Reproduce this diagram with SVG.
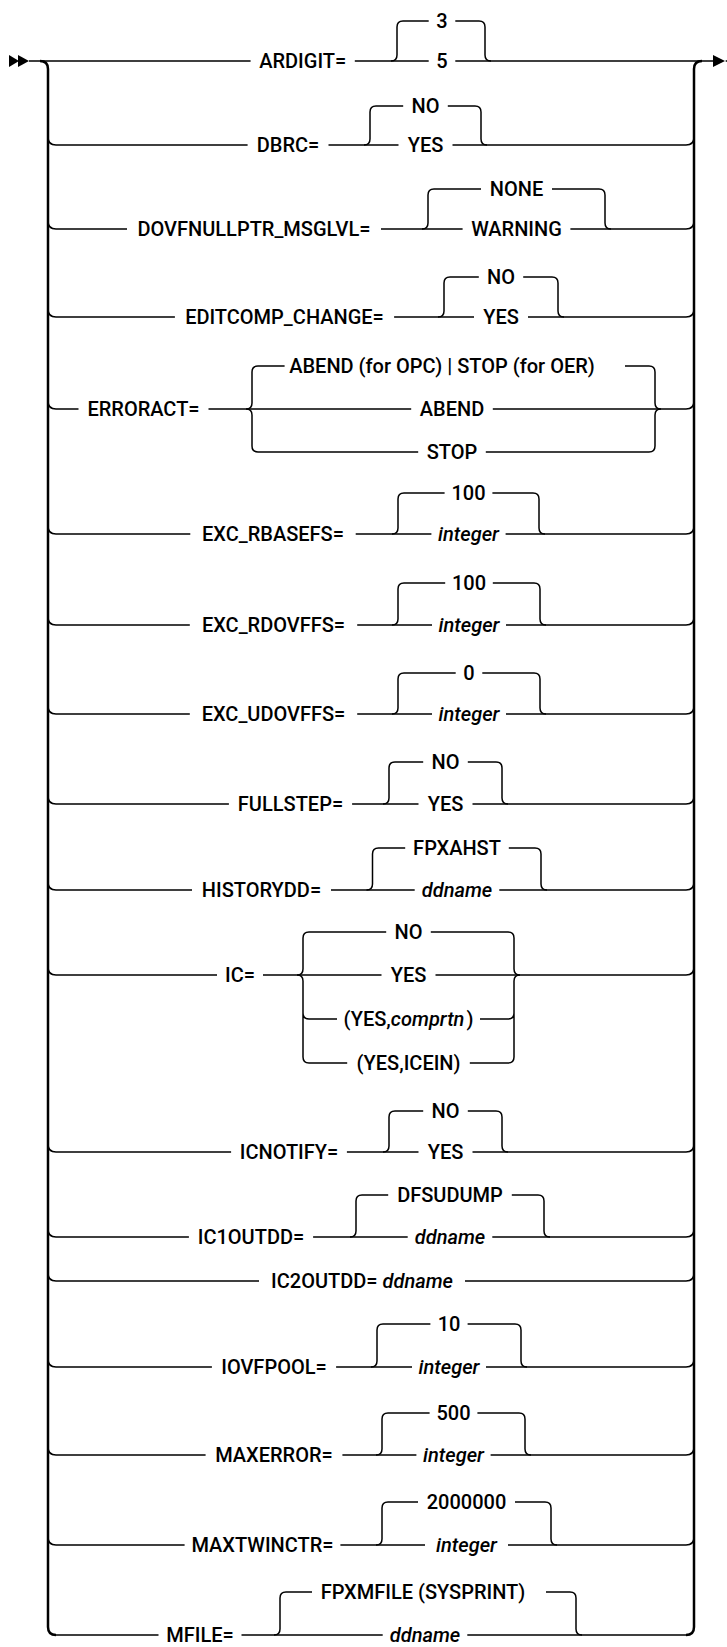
<svg xmlns="http://www.w3.org/2000/svg" width="727" height="1647" viewBox="0 0 727 1647">
<style>
  .ln{fill:none;stroke:#000;stroke-width:1.5;stroke-linecap:butt}
  .rail{fill:none;stroke:#000;stroke-width:2.5}
  .t{font-family:Roboto,"Liberation Sans",Arial,sans-serif;font-size:20px;font-weight:500;fill:#000;text-anchor:middle}
  .i{font-style:italic}
  .ah{fill:#000}
</style>
<rect width="727" height="1647" fill="#fff"/>
<g id="connectors">
  <polygon class="ah" points="9,55 19,61 9,67"/>
  <polygon class="ah" points="18,55 29,61 18,67"/>
  <polygon class="ah" points="713,55 725,61 713,67"/>
  <polygon class="ah" points="737,55 725,61 737,67"/>
  <path class="rail" d="M40 61 Q48 61 48 69 V1627 Q48 1635 56 1635"/>
  <path class="rail" d="M702 61 Q694 61 694 69 V1627 Q694 1635 686 1635"/>
  <path class="ln" d="M48 137 Q48 145 56 145 M48 221 Q48 229 56 229 M48 309 Q48 317 56 317 M48 401 Q48 409 56 409 M48 526 Q48 534 56 534 M48 617 Q48 625 56 625 M48 706 Q48 714 56 714 M48 796 Q48 804 56 804 M48 882 Q48 890 56 890 M48 967 Q48 975 56 975 M48 1144 Q48 1152 56 1152 M48 1229 Q48 1237 56 1237 M48 1273 Q48 1281 56 1281 M48 1359 Q48 1367 56 1367 M48 1447 Q48 1455 56 1455 M48 1537 Q48 1545 56 1545"/>
  <path class="ln" d="M686 145 Q694 145 694 137 M686 229 Q694 229 694 221 M686 317 Q694 317 694 309 M686 409 Q694 409 694 401 M686 534 Q694 534 694 526 M686 625 Q694 625 694 617 M686 714 Q694 714 694 706 M686 804 Q694 804 694 796 M686 890 Q694 890 694 882 M686 975 Q694 975 694 967 M686 1152 Q694 1152 694 1144 M686 1237 Q694 1237 694 1229 M686 1281 Q694 1281 694 1273 M686 1367 Q694 1367 694 1359 M686 1455 Q694 1455 694 1447 M686 1545 Q694 1545 694 1537"/>
  <path class="ln" d="M29 61 H250.6 M354.8 61 H428.7 M455.3 61 H713"/>
  <path class="ln" d="M391 61 Q397 61 397 55 V27 Q397 21 403 21 H428.7 M455.3 21 H479 Q485 21 485 27 V55 Q485 61 491 61"/>
  <path class="ln" d="M56 145 H247.6 M328.5 145 H398.5 M452.5 145 H686"/>
  <path class="ln" d="M364 145 Q370 145 370 139 V112 Q370 106 376 106 H403.2 M447.8 106 H475 Q481 106 481 112 V139 Q481 145 487 145"/>
  <path class="ln" d="M56 229 H127 M381 229 H462.6 M570.4 229 H686"/>
  <path class="ln" d="M422 229 Q428 229 428 223 V195 Q428 189 434 189 H481 M552 189 H599 Q605 189 605 195 V223 Q605 229 611 229"/>
  <path class="ln" d="M56 317 H174.9 M394.1 317 H474 M528 317 H686"/>
  <path class="ln" d="M438 317 Q444 317 444 311 V283 Q444 277 450 277 H478.8 M523.2 277 H552 Q558 277 558 283 V311 Q558 317 564 317"/>
  <path class="ln" d="M56 409 H78.5 M208.5 409 H411.2 M492.8 409 H686"/>
  <path class="ln" d="M284.6 366 H258 Q252 366 252 372 V403 Q252 409 246 409 Q252 409 252 415 V446 Q252 452 258 452 H418.2"/>
  <path class="ln" d="M485.8 452 H649 Q655 452 655 446 V415 Q655 409 661 409 Q655 409 655 403 V372 Q655 366 649 366 H625"/>
  <path class="ln" d="M56 534 H190.3 M355.7 534 H431.4 M505.6 534 H686"/>
  <path class="ln" d="M392 534 Q398 534 398 528 V499 Q398 493 404 493 H444.6 M492.4 493 H533 Q539 493 539 499 V528 Q539 534 545 534"/>
  <path class="ln" d="M56 625 H189.8 M357.2 625 H432 M506 625 H686"/>
  <path class="ln" d="M392 625 Q398 625 398 619 V589 Q398 583 404 583 H445.2 M492.8 583 H534 Q540 583 540 589 V619 Q540 625 546 625"/>
  <path class="ln" d="M56 714 H189.8 M357.2 714 H432 M506 714 H686"/>
  <path class="ln" d="M392 714 Q398 714 398 708 V679 Q398 673 404 673 H455.7 M482.3 673 H534 Q540 673 540 679 V708 Q540 714 546 714"/>
  <path class="ln" d="M56 804 H228.9 M352.1 804 H418.5 M472.5 804 H686"/>
  <path class="ln" d="M383 804 Q389 804 389 798 V768 Q389 762 395 762 H423.2 M467.8 762 H496 Q502 762 502 768 V798 Q502 804 508 804"/>
  <path class="ln" d="M56 890 H192 M331 890 H414.7 M499.3 890 H686"/>
  <path class="ln" d="M366.5 890 Q372.5 890 372.5 884 V854 Q372.5 848 378.5 848 H405.2 M508.8 848 H535 Q541 848 541 854 V884 Q541 890 547 890"/>
  <path class="ln" d="M56 975 H217 M263 975 H381.5 M435.5 975 H686"/>
  <path class="ln" d="M386.2 932 H309 Q303 932 303 938 V969 Q303 975 297 975 Q303 975 303 981 V1057 Q303 1063 309 1063 H347.2 M303 1013 Q303 1019 309 1019 H337"/>
  <path class="ln" d="M430.8 932 H508 Q514 932 514 938 V969 Q514 975 520 975 Q514 975 514 981 V1057 Q514 1063 508 1063 H469.8 M480 1019 H508 Q514 1019 514 1013"/>
  <path class="ln" d="M56 1152 H231.1 M346.9 1152 H418.5 M472.5 1152 H686"/>
  <path class="ln" d="M383 1152 Q389 1152 389 1146 V1117 Q389 1111 395 1111 H423.2 M467.8 1111 H496 Q502 1111 502 1117 V1146 Q502 1152 508 1152"/>
  <path class="ln" d="M56 1237 H188.9 M313.1 1237 H407.7 M492.3 1237 H686"/>
  <path class="ln" d="M350 1237 Q356 1237 356 1231 V1201 Q356 1195 362 1195 H388.2 M511.8 1195 H538 Q544 1195 544 1201 V1231 Q544 1237 550 1237"/>
  <path class="ln" d="M56 1281 H259 M465 1281 H686"/>
  <path class="ln" d="M56 1367 H211.9 M336.1 1367 H412 M486 1367 H686"/>
  <path class="ln" d="M371 1367 Q377 1367 377 1361 V1330 Q377 1324 383 1324 H430.4 M467.6 1324 H515 Q521 1324 521 1330 V1361 Q521 1367 527 1367"/>
  <path class="ln" d="M56 1455 H205.6 M342.4 1455 H416.4 M490.6 1455 H686"/>
  <path class="ln" d="M376 1455 Q382 1455 382 1449 V1419 Q382 1413 388 1413 H429.6 M477.4 1413 H519 Q525 1413 525 1419 V1449 Q525 1455 531 1455"/>
  <path class="ln" d="M56 1545 H184.6 M340.4 1545 H425 M508 1545 H686"/>
  <path class="ln" d="M376 1545 Q382 1545 382 1539 V1508 Q382 1502 388 1502 H418 M515 1502 H545 Q551 1502 551 1508 V1539 Q551 1545 557 1545"/>
  <path class="ln" d="M56 1635 H158.5 M241.5 1635 H382.7 M467.3 1635 H686"/>
  <path class="ln" d="M274 1635 Q280 1635 280 1629 V1598 Q280 1592 286 1592 H312 M546 1592 H570 Q576 1592 576 1598 V1629 Q576 1635 582 1635"/>
</g>
<g id="ardigit"><text class="t" x="302.7" y="68">ARDIGIT=</text><text class="t" x="442" y="28">3</text><text class="t" x="442" y="68">5</text></g>
<g id="dbrc"><text class="t" x="288" y="152">DBRC=</text><text class="t" x="425.5" y="113">NO</text><text class="t" x="425.5" y="152">YES</text></g>
<g id="dovfnullptr"><text class="t" x="254" y="236">DOVFNULLPTR_MSGLVL=</text><text class="t" x="516.5" y="196">NONE</text><text class="t" x="516.5" y="236">WARNING</text></g>
<g id="editcomp"><text class="t" x="284.5" y="324">EDITCOMP_CHANGE=</text><text class="t" x="501" y="284">NO</text><text class="t" x="501" y="324">YES</text></g>
<g id="erroract"><text class="t" x="143.5" y="416">ERRORACT=</text><text class="t" x="442" y="373">ABEND (for OPC) | STOP (for OER)</text><text class="t" x="452" y="416">ABEND</text><text class="t" x="452" y="459">STOP</text></g>
<g id="exc-rbasefs"><text class="t" x="273" y="541">EXC_RBASEFS=</text><text class="t" x="468.5" y="500">100</text><text class="t i" x="468.5" y="541">integer</text></g>
<g id="exc-rdovffs"><text class="t" x="273.5" y="632">EXC_RDOVFFS=</text><text class="t" x="469" y="590">100</text><text class="t i" x="469" y="632">integer</text></g>
<g id="exc-udovffs"><text class="t" x="273.5" y="721">EXC_UDOVFFS=</text><text class="t" x="469" y="680">0</text><text class="t i" x="469" y="721">integer</text></g>
<g id="fullstep"><text class="t" x="290.5" y="811">FULLSTEP=</text><text class="t" x="445.5" y="769">NO</text><text class="t" x="445.5" y="811">YES</text></g>
<g id="historydd"><text class="t" x="261.5" y="897">HISTORYDD=</text><text class="t" x="457" y="855">FPXAHST</text><text class="t i" x="457" y="897">ddname</text></g>
<g id="ic"><text class="t" x="240" y="982">IC=</text><text class="t" x="408.5" y="939">NO</text><text class="t" x="408.5" y="982">YES</text><text class="t" x="408.5" y="1026">(YES,<tspan class="i">comprtn</tspan><tspan dx="2">)</tspan></text><text class="t" x="408.5" y="1070">(YES,ICEIN)</text></g>
<g id="icnotify"><text class="t" x="289" y="1159">ICNOTIFY=</text><text class="t" x="445.5" y="1118">NO</text><text class="t" x="445.5" y="1159">YES</text></g>
<g id="ic1outdd"><text class="t" x="251" y="1244">IC1OUTDD=</text><text class="t" x="450" y="1202">DFSUDUMP</text><text class="t i" x="450" y="1244">ddname</text></g>
<g id="ic2outdd"><text class="t" x="362" y="1288">IC2OUTDD= <tspan class="i">ddname</tspan></text></g>
<g id="iovfpool"><text class="t" x="274" y="1374">IOVFPOOL=</text><text class="t" x="449" y="1331">10</text><text class="t i" x="449" y="1374">integer</text></g>
<g id="maxerror"><text class="t" x="274" y="1462">MAXERROR=</text><text class="t" x="453.5" y="1420">500</text><text class="t i" x="453.5" y="1462">integer</text></g>
<g id="maxtwinctr"><text class="t" x="262.5" y="1552">MAXTWINCTR=</text><text class="t" x="466.5" y="1509">2000000</text><text class="t i" x="466.5" y="1552">integer</text></g>
<g id="mfile"><text class="t" x="200" y="1642">MFILE=</text><text class="t" x="423" y="1599">FPXMFILE (SYSPRINT)</text><text class="t i" x="425" y="1642">ddname</text></g>
</svg>
